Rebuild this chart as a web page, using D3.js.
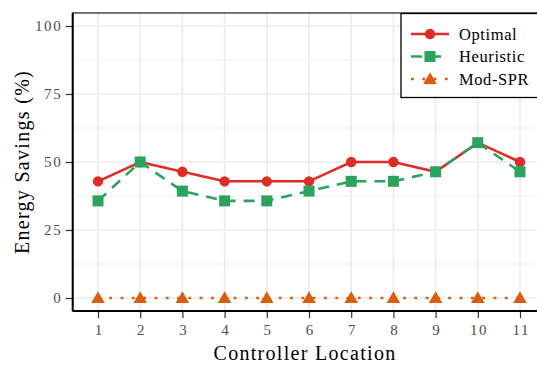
<!DOCTYPE html>
<html>
<head>
<meta charset="utf-8">
<script src="https://cdn.jsdelivr.net/npm/d3@7"></script>
<style>
  html, body { margin: 0; padding: 0; background: #fff; }
  svg text { font-family: "Liberation Serif", "DejaVu Serif", serif; }
</style>
</head>
<body>
<div id="chart"></div>
<script>
// datos
const locations = [1, 2, 3, 4, 5, 6, 7, 8, 9, 10, 11];
const optimal   = [42.9, 50, 46.4, 42.9, 42.9, 42.9, 50, 50, 46.4, 57.1, 50];
const heuristic = [35.7, 50, 39.3, 35.7, 35.7, 39.3, 42.9, 42.9, 46.4, 57.1, 46.4];
const modSpr    = [0, 0, 0, 0, 0, 0, 0, 0, 0, 0, 0];
const yTicks = [0, 25, 50, 75, 100];
const seriesNames = ["Optimal", "Heuristic", "Mod-SPR"];

const series = [
  { name: seriesNames[0], values: optimal,   color: "#de2d26", dash: null,      shape: "circle" },
  { name: seriesNames[1], values: heuristic, color: "#2ca25f", dash: "11,8",    shape: "square" },
  { name: seriesNames[2], values: modSpr,    color: "#d95f0e", dash: "2.8,8.5", shape: "triangle" }
];

const svgWidth = 537, svgHeight = 365;

const svg = d3.select("#chart").append("svg")
  .attr("width", svgWidth)
  .attr("height", svgHeight);

// escalas (x discreta con expansion de 0.6)
const xScale = d3.scaleLinear().domain([1, 11]).range([98, 520]);
const yScale = d3.scaleLinear().domain([0, 100]).range([298, 26]);

const pLeft = xScale(0.4), pRight = xScale(11.6);
const pTop = yScale(104.8), pBottom = yScale(-4.8);

// clip para el panel
svg.append("clipPath").attr("id", "panel")
  .append("rect").attr("x", pLeft).attr("y", pTop)
  .attr("width", pRight - pLeft).attr("height", pBottom - pTop);

const grid = svg.append("g").attr("clip-path", "url(#panel)");
const minorTicks = [12.5, 37.5, 62.5, 87.5];

grid.selectAll(".minor").data(minorTicks).enter().append("line")
  .attr("x1", pLeft).attr("x2", pRight)
  .attr("y1", d => yScale(d)).attr("y2", d => yScale(d))
  .attr("stroke", "#efefef").attr("stroke-width", 1);

grid.selectAll(".hmajor").data(yTicks).enter().append("line")
  .attr("x1", pLeft).attr("x2", pRight)
  .attr("y1", d => yScale(d)).attr("y2", d => yScale(d))
  .attr("stroke", "#ebebeb").attr("stroke-width", 1.6);

grid.selectAll(".vmajor").data(locations).enter().append("line")
  .attr("y1", pTop).attr("y2", pBottom)
  .attr("x1", d => xScale(d)).attr("x2", d => xScale(d))
  .attr("stroke", "#ebebeb").attr("stroke-width", 1.6);

// lineas y marcadores
const line = d3.line()
  .x((d, i) => xScale(locations[i]))
  .y(d => yScale(d));

function drawMarker(g, shape, x, y, color, size) {
  if (shape === "circle") {
    g.append("circle").attr("cx", x).attr("cy", y).attr("r", size * 0.47).attr("fill", color);
  } else if (shape === "square") {
    g.append("rect").attr("x", x - size / 2).attr("y", y - size / 2)
      .attr("width", size).attr("height", size).attr("fill", color);
  } else {
    const h = size;
    g.append("path")
      .attr("d", `M${x},${y - h * 0.62} L${x + h * 0.62},${y + h * 0.45} L${x - h * 0.62},${y + h * 0.45} Z`)
      .attr("fill", color);
  }
}

const plot = svg.append("g").attr("clip-path", "url(#panel)");
series.forEach(s => {
  plot.append("path")
    .datum(s.values)
    .attr("d", line)
    .attr("fill", "none")
    .attr("stroke", s.color)
    .attr("stroke-width", 2.6)
    .attr("stroke-dasharray", s.dash);
});
series.forEach(s => {
  const g = plot.append("g");
  s.values.forEach((v, i) => drawMarker(g, s.shape, xScale(locations[i]), yScale(v), s.color, 11));
});

// borde del panel
svg.append("rect")
  .attr("x", pLeft).attr("y", pTop)
  .attr("width", pRight - pLeft).attr("height", pBottom - pTop)
  .attr("fill", "none").attr("stroke", "#222").attr("stroke-width", 1.2);

// ejes
const yAxis = svg.append("g")
  .attr("transform", `translate(${pLeft},0)`)
  .call(d3.axisLeft(yScale).tickValues(yTicks).tickSize(7).tickPadding(5));
const xAxis = svg.append("g")
  .attr("transform", `translate(0,${pBottom})`)
  .call(d3.axisBottom(xScale).tickValues(locations).tickSize(7).tickPadding(6).tickFormat(d3.format("d")));

[yAxis, xAxis].forEach(ax => {
  ax.select(".domain").remove();
  ax.selectAll(".tick line").attr("stroke", "#333").attr("stroke-width", 1.2);
  ax.selectAll(".tick text")
    .attr("fill", "#4d4d4d")
    .style("font-size", "15px")
    .style("letter-spacing", "1.6px")
    .style("font-family", "'Liberation Serif', serif");
});
// el espaciado deja un hueco a la derecha del ultimo digito
yAxis.selectAll(".tick text").attr("dx", "1.6px");
xAxis.selectAll(".tick text").attr("dx", "0.8px");

svg.append("line").attr("x1", pLeft).attr("x2", pLeft).attr("y1", pTop).attr("y2", pBottom)
  .attr("stroke", "#000").attr("stroke-width", 2);
svg.append("line").attr("x1", pLeft).attr("x2", pRight).attr("y1", pBottom).attr("y2", pBottom)
  .attr("stroke", "#000").attr("stroke-width", 2);

// titulos
svg.append("text")
  .attr("x", (pLeft + pRight) / 2 - 4)
  .attr("y", 360)
  .attr("text-anchor", "middle")
  .style("font-size", "20px")
  .style("letter-spacing", "1.3px")
  .text("Controller Location");

svg.append("text")
  .attr("transform", `translate(29,${(pTop + pBottom) / 2}) rotate(-90)`)
  .attr("text-anchor", "middle")
  .style("font-size", "20px")
  .style("letter-spacing", "1.3px")
  .text("Energy Savings (%)");

// leyenda
const legend = svg.append("g");
legend.append("rect")
  .attr("x", 401).attr("y", 13.5)
  .attr("width", 150).attr("height", 84)
  .attr("fill", "#fff").attr("stroke", "#000").attr("stroke-width", 1.3);

series.forEach((s, i) => {
  const y = 34 + i * 22.5;
  legend.append("line")
    .attr("x1", 411).attr("x2", 449).attr("y1", y).attr("y2", y)
    .attr("stroke", s.color).attr("stroke-width", 2.6)
    .attr("stroke-dasharray", s.dash);
  drawMarker(legend, s.shape, 430, y, s.color, 11);
  legend.append("text")
    .attr("x", 459).attr("y", y)
    .attr("dy", "0.35em")
    .style("font-size", "16.5px")
    .style("letter-spacing", "0.6px")
    .text(s.name);
});
</script>
</body>
</html>
